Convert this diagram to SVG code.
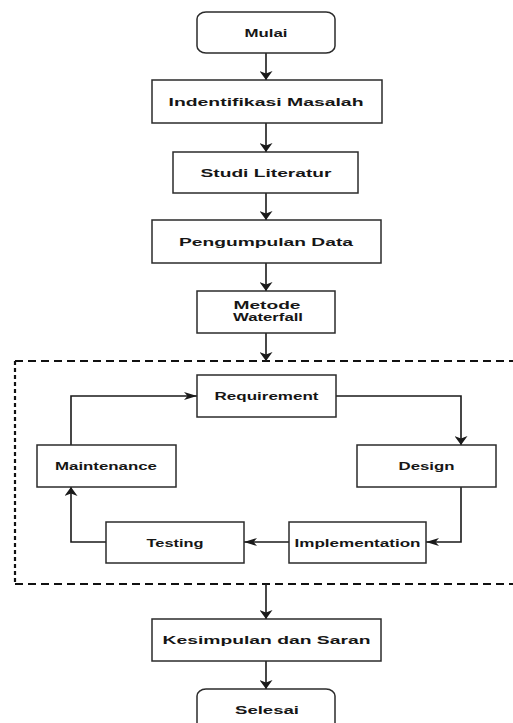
<svg xmlns="http://www.w3.org/2000/svg" width="513" height="723" viewBox="0 0 513 723">
<style>
.box{fill:#fff;stroke:#2b2b2b;stroke-width:1.5}
.lbl{font-family:"Liberation Sans",Arial,sans-serif;font-weight:bold;font-size:11.5px;fill:#161616;text-anchor:middle}
.c{fill:none;stroke:#1a1a1a;stroke-width:1.6}
.cv{marker-end:url(#mv)}
.ch{marker-end:url(#mh)}
.dash{fill:none;stroke:#111;stroke-width:2.2}
</style>
<defs>
<marker id="mv" markerUnits="userSpaceOnUse" orient="auto" markerWidth="10" markerHeight="13" refX="9" refY="6.5" viewBox="0 0 10 13">
<path d="M0,0 L9,6.5 L0,13 L2.5,6.5 Z" fill="#1a1a1a"/>
</marker>
<marker id="mh" markerUnits="userSpaceOnUse" orient="auto" markerWidth="13" markerHeight="8" refX="13" refY="4" viewBox="0 0 13 8">
<path d="M0,0 L13,4 L0,8 L3.5,4 Z" fill="#1a1a1a"/>
</marker>
</defs>
<rect width="513" height="723" fill="#fff"/>
<g id="waterfall-frame">
<path class="dash" d="M15,361 H513 M15,584 H513" stroke-dasharray="8 5"/>
<path class="dash" d="M15,361 V584" stroke-dasharray="4 3" stroke-width="2.6"/>
</g>
<g id="connectors">
<path class="c cv" d="M266,53 V80"/>
<path class="c cv" d="M266,123 V152"/>
<path class="c cv" d="M266,193 V220"/>
<path class="c cv" d="M266,263 V291"/>
<path class="c cv" d="M266,333 V361"/>
<path class="c ch" d="M71,445 V396 H197"/>
<path class="c cv" d="M336,396 H461 V445"/>
<path class="c ch" d="M461,487 V542 H426"/>
<path class="c ch" d="M289,542 H244"/>
<path class="c cv" d="M106,542 H71 V487"/>
<path class="c cv" d="M266,584 V619"/>
<path class="c cv" d="M266,661 V689"/>
</g>
<g id="mulai">
<rect class="box" x="197" y="12" width="138" height="41" rx="9" ry="7"/>
<text class="lbl" x="266" y="36.5" textLength="43" lengthAdjust="spacingAndGlyphs">Mulai</text>
</g>
<g id="identifikasi">
<rect class="box" x="152" y="80" width="230" height="43"/>
<text class="lbl" x="266" y="105.5" textLength="195" lengthAdjust="spacingAndGlyphs">Indentifikasi Masalah</text>
</g>
<g id="studi">
<rect class="box" x="173" y="152" width="185" height="41"/>
<text class="lbl" x="266" y="176.5" textLength="131" lengthAdjust="spacingAndGlyphs">Studi Literatur</text>
</g>
<g id="pengumpulan">
<rect class="box" x="152" y="220" width="229" height="43"/>
<text class="lbl" x="266" y="246" textLength="174" lengthAdjust="spacingAndGlyphs">Pengumpulan Data</text>
</g>
<g id="metode">
<rect class="box" x="197" y="291" width="138" height="42"/>
<text class="lbl" x="267" y="308.5" textLength="67" lengthAdjust="spacingAndGlyphs">Metode</text>
<text class="lbl" x="268" y="321" textLength="70" lengthAdjust="spacingAndGlyphs">Waterfall</text>
</g>
<g id="requirement">
<rect class="box" x="197" y="375" width="139" height="42"/>
<text class="lbl" x="266.5" y="400" textLength="104" lengthAdjust="spacingAndGlyphs">Requirement</text>
</g>
<g id="design">
<rect class="box" x="357" y="445" width="139" height="42"/>
<text class="lbl" x="426.5" y="470" textLength="56" lengthAdjust="spacingAndGlyphs">Design</text>
</g>
<g id="implementation">
<rect class="box" x="289" y="522" width="137" height="41"/>
<text class="lbl" x="357.5" y="546.5" textLength="126" lengthAdjust="spacingAndGlyphs">Implementation</text>
</g>
<g id="testing">
<rect class="box" x="106" y="522" width="138" height="41"/>
<text class="lbl" x="175" y="546.5" textLength="57" lengthAdjust="spacingAndGlyphs">Testing</text>
</g>
<g id="maintenance">
<rect class="box" x="37" y="445" width="139" height="42"/>
<text class="lbl" x="106" y="470" textLength="102" lengthAdjust="spacingAndGlyphs">Maintenance</text>
</g>
<g id="kesimpulan">
<rect class="box" x="152" y="619" width="229" height="42"/>
<text class="lbl" x="266.5" y="644" textLength="208" lengthAdjust="spacingAndGlyphs">Kesimpulan dan Saran</text>
</g>
<g id="selesai">
<rect class="box" x="197" y="689" width="138" height="50" rx="9" ry="7"/>
<text class="lbl" x="267" y="713.5" textLength="64" lengthAdjust="spacingAndGlyphs">Selesai</text>
</g>
</svg>
